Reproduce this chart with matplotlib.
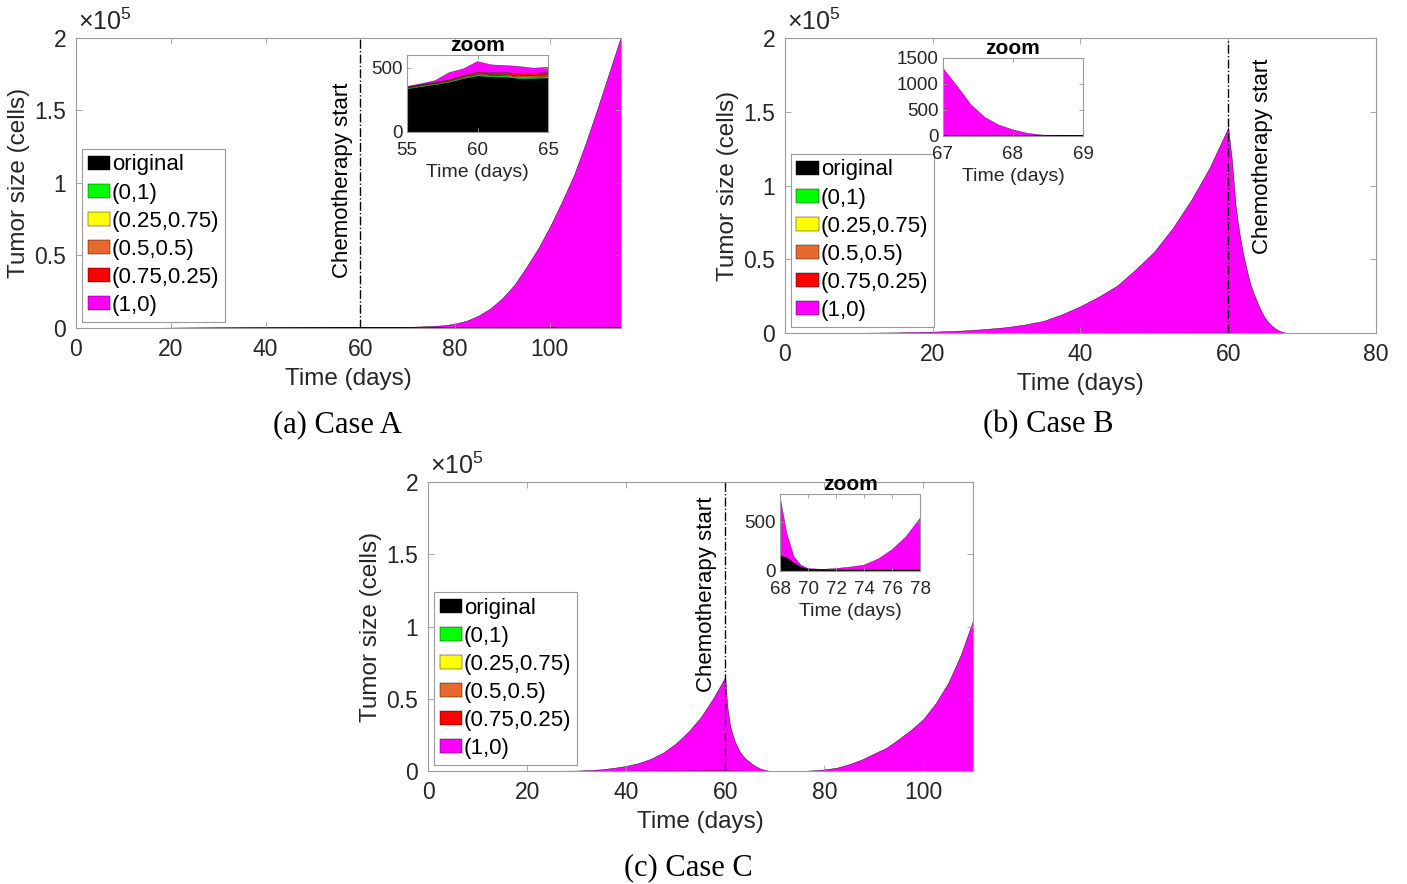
import matplotlib
matplotlib.use("Agg")
import matplotlib.pyplot as plt
from matplotlib.ticker import FuncFormatter
import matplotlib.transforms as mtransforms

plt.rcParams['font.family'] = ['Liberation Sans', 'DejaVu Sans']
plt.rcParams['mathtext.fontset'] = 'custom'
plt.rcParams['mathtext.rm'] = 'Liberation Sans'

labels = ['original', '(0,1)', '(0.25,0.75)', '(0.5,0.5)', '(0.75,0.25)', '(1,0)']
colors = ['#000000', '#00ff00', '#ffff00', '#e8692e', '#ff0000', '#ff00ff']

# Case A
tA = [0, 10, 20, 30, 40, 50,
      55, 56, 57, 58, 59, 60, 61, 62, 63, 64, 65,
      67.5, 70, 72.5, 75, 77.5, 80, 82.5, 85, 87.5, 90,
      92.5, 95, 97.5, 100, 102.5, 105, 107.5, 110, 112.5, 115]
blackA = [100, 140, 180, 220, 260, 305,
          335, 352, 368, 386, 415, 436, 430, 428, 414, 416, 420,
          430, 440, 450, 460, 465, 470, 475, 480, 490, 500,
          510, 520, 530, 540, 550, 560, 570, 580, 590, 600]
greenA = [0, 1, 2, 3, 4, 5,
          6, 7, 7, 7, 8, 9, 9, 9, 10, 10, 10,
          11, 12, 13, 14, 15, 16, 18, 20, 22, 25,
          28, 30, 32, 35, 38, 40, 42, 45, 48, 50]
yellowA = [0, 0, 1, 1, 2, 2,
           3, 3, 3, 3, 4, 4, 4, 5, 5, 5, 6,
           6, 7, 8, 8, 9, 10, 11, 12, 13, 15,
           16, 18, 20, 21, 23, 24, 26, 27, 29, 30]
orangeA = [0, 0, 1, 1, 2, 2,
           3, 4, 4, 5, 5, 6, 7, 7, 8, 8, 9,
           10, 11, 12, 13, 14, 15, 17, 19, 21, 24,
           26, 29, 31, 34, 37, 40, 43, 46, 49, 52]
redA = [0, 0, 0, 1, 1, 2,
        3, 4, 5, 6, 8, 10, 12, 14, 16, 18, 20,
        24, 28, 33, 38, 44, 50, 57, 65, 72, 80,
        90, 100, 110, 120, 130, 140, 150, 160, 170, 180]
magentaA = [0, 0, 1, 1, 2, 3,
            5, 6, 14, 56, 52, 84, 61, 55, 57, 40, 40,
            120, 300, 520, 800, 1300, 2400, 4500, 8000, 13000, 20000,
            29000, 41000, 54000, 69000, 86000, 104000, 126000, 150000, 175000, 200000]

# Case B
tB = [0, 5, 10, 15, 20,
      22.5, 25, 27.5, 30, 32.5, 35, 37.5, 40, 42.5, 45,
      47.5, 50, 52.5, 55, 57.5, 60,
      60.5, 61, 61.5, 62, 62.5, 63, 63.5, 64, 64.5, 65,
      65.5, 66, 66.5, 67,
      67.2, 67.4, 67.6, 67.8, 68, 68.2, 68.4, 68.6,
      69, 70, 75]
blackB = [50, 65, 80, 100, 120,
          130, 140, 150, 160, 170, 180, 190, 200, 210, 220,
          230, 240, 250, 260, 270, 280,
          250, 220, 190, 160, 130, 100, 85, 70, 60, 50,
          40, 30, 22, 15,
          13, 12, 11, 10, 9, 8, 8, 7,
          6, 5, 3]
greenB = [0, 0, 1, 1, 1,
          1, 1, 1, 1, 1, 2, 2, 2, 2, 2,
          2, 2, 3, 3, 3, 3,
          3, 2, 2, 2, 2, 1, 1, 1, 1, 1,
          1, 1, 1, 1,
          1, 1, 1, 0, 0, 0, 0, 0,
          0, 0, 0]
minorB = [0, 0, 0, 0, 1,
          1, 1, 1, 1, 1, 1, 1, 1, 1, 1,
          2, 2, 2, 2, 2, 2,
          2, 2, 1, 1, 1, 1, 1, 1, 1, 1,
          1, 1, 0, 0,
          0, 0, 0, 0, 0, 0, 0, 0,
          0, 0, 0]
magentaB = [20, 50, 100, 300, 800,
            1200, 1800, 2700, 3800, 5600, 8000, 12500, 18000, 24500, 32000,
            43000, 55000, 71000, 90000, 112000, 139000,
            117000, 86000, 68000, 54000, 43000, 33000, 26000, 20000, 14500, 10000,
            7000, 4500, 2600, 1290,
            950, 590, 345, 200, 110, 45, 12, 2,
            0, 0, 0]

# Case C
tC = [0, 10, 20, 30, 32.5, 35, 37.5, 40, 42.5, 45,
      47.5, 50, 52.5, 55, 57.5, 60, 60.25, 60.5, 61, 61.5,
      62, 63, 64, 65, 66, 67, 68, 68.5, 69, 69.5,
      70, 71, 72, 73, 74, 75, 76, 77, 78, 80,
      82.5, 85, 87.5, 90, 92.5, 95, 97.5, 100, 102.5, 105,
      107.5, 110]
blackC = [8, 15, 40, 120, 150, 180, 215, 250, 275, 300,
          325, 350, 365, 380, 390, 400, 395, 380, 350, 335,
          320, 290, 260, 230, 200, 175, 150, 126, 75, 34,
          17, 12, 10, 10, 10, 10, 10, 10, 10, 10,
          10, 11, 11, 12, 12, 13, 13, 14, 14, 15,
          15, 16]
greenC = [0, 0, 0, 1, 1, 1, 2, 2, 2, 3,
          3, 4, 4, 5, 5, 6, 6, 6, 6, 6,
          6, 6, 6, 6, 6, 6, 6, 5, 4, 3,
          2, 1, 1, 1, 1, 1, 1, 1, 1, 1,
          1, 1, 1, 1, 1, 1, 1, 1, 1, 1,
          1, 1]
minorC = [0, 0, 0, 0, 0, 1, 1, 1, 1, 1,
          1, 1, 1, 1, 2, 2, 2, 2, 2, 2,
          2, 2, 1, 1, 1, 1, 1, 1, 1, 1,
          0, 0, 0, 0, 0, 0, 0, 0, 0, 0,
          0, 0, 0, 0, 0, 0, 0, 0, 0, 0,
          0, 0]
magentaC = [2, 5, 20, 180, 500, 1000, 1980, 3250, 5220, 8190,
            12470, 18650, 26630, 36610, 49600, 64590, 51590, 41610, 30640, 24650,
            19670, 12700, 8530, 5760, 3290, 1620, 598, 240, 62, 19,
            6, 4, 14, 29, 49, 109, 204, 336, 523, 1090,
            2290, 4690, 7890, 12000, 16000, 22000, 28500, 36000, 47000, 61000,
            80000, 104000]

AX_GRAY = '#9a9a9a'
TXT = '#262626'


def style(ax, fs, pad):
    for s in ax.spines.values():
        s.set_color(AX_GRAY)
        s.set_linewidth(0.8)
    ax.tick_params(direction='in', length=4, width=0.6, color=AX_GRAY,
                   top=True, right=True, labelsize=fs, labelcolor=TXT, pad=pad)


def panel(fig, rect, irect, t, series, xmax, xticks, tx, ty,
          ixlim, ixticks, iylim, iyticks, leg_anchor):
    ax = fig.add_axes(rect)
    ax.stackplot(t, *series, colors=colors, labels=labels,
                 edgecolor='k', linewidth=0.3)
    ax.set_xlim(0, xmax)
    ax.set_ylim(0, 2e5)
    ax.set_xticks(xticks)
    ax.set_yticks([0, 0.5e5, 1e5, 1.5e5, 2e5])
    ax.yaxis.set_major_formatter(FuncFormatter(lambda v, p: f"{v/1e5:g}"))
    style(ax, 16.5, 7)
    ax.set_xlabel('Time (days)', fontsize=17.5, color=TXT, labelpad=5)
    ax.set_ylabel('Tumor size (cells)', fontsize=17.5, color=TXT, labelpad=3)
    ax.text(0.004, 1.01, r'$\times10^{5}$', transform=ax.transAxes,
            fontsize=18, color=TXT, ha='left', va='bottom')
    ax.axvline(60, color='k', linestyle='-.', linewidth=1.0)
    trans = mtransforms.blended_transform_factory(ax.transData, ax.transAxes)
    ax.text(tx, ty, 'Chemotherapy start', transform=trans, rotation=90,
            fontsize=16, ha='center', va='center', color='k')
    leg = ax.legend(loc='lower left', bbox_to_anchor=leg_anchor, borderaxespad=0,
                    fontsize=16, frameon=True, fancybox=False, framealpha=1,
                    edgecolor=AX_GRAY, handlelength=1.0, handleheight=0.6,
                    handletextpad=0.1, labelspacing=0.32, borderpad=0.25)
    leg.get_frame().set_linewidth(0.8)

    ins = fig.add_axes(irect)
    ins.stackplot(t, *series, colors=colors, edgecolor='k', linewidth=0.2)
    ins.set_xlim(*ixlim)
    ins.set_ylim(*iylim)
    ins.set_xticks(ixticks)
    ins.set_yticks(iyticks)
    style(ins, 13.5, 3)
    ins.tick_params(axis='x', pad=7)
    ins.tick_params(length=3)
    ins.set_xlabel('Time (days)', fontsize=14, color=TXT, labelpad=4)
    ins.set_title('zoom', fontsize=15, fontweight='bold', pad=3)
    return ax


fig = plt.figure(figsize=(14.07, 8.84), dpi=100)

panel(fig, [0.0540, 0.6290, 0.3873, 0.3281], [0.2893, 0.8507, 0.1002, 0.0871],
      tA, [blackA, greenA, yellowA, orangeA, redA, magentaA], 115, [0, 20, 40, 60, 80, 100],
      56.3, 0.51, (55, 65), [55, 60, 65], (0, 600), [0, 500], (0.011, 0.022))

panel(fig, [0.5579, 0.6233, 0.4200, 0.3337], [0.6702, 0.8462, 0.0995, 0.0882],
      tB, [blackB, greenB, minorB, minorB, minorB, magentaB], 80, [0, 20, 40, 60, 80],
      64.7, 0.60, (67, 69), [67, 68, 69], (0, 1500), [0, 500, 1000, 1500], (0.010, 0.022))

panel(fig, [0.3042, 0.1278, 0.3873, 0.3269], [0.5544, 0.3541, 0.0995, 0.0871],
      tC, [blackC, greenC, minorC, minorC, minorC, magentaC], 110, [0, 20, 40, 60, 80, 100],
      56.3, 0.61, (68, 78), [68, 70, 72, 74, 76, 78], (0, 780), [0, 500], (0.011, 0.022))

cap = dict(fontsize=22, family='Liberation Serif', ha='center', va='center', color='k')
fig.text(337 / 1407, 1 - 425 / 884, '(a) Case A', **cap)
fig.text(1048 / 1407, 1 - 425 / 884, '(b) Case B', **cap)
fig.text(688 / 1407, 1 - 868 / 884, '(c) Case C', **cap)

fig.savefig('out.png', dpi=100)
